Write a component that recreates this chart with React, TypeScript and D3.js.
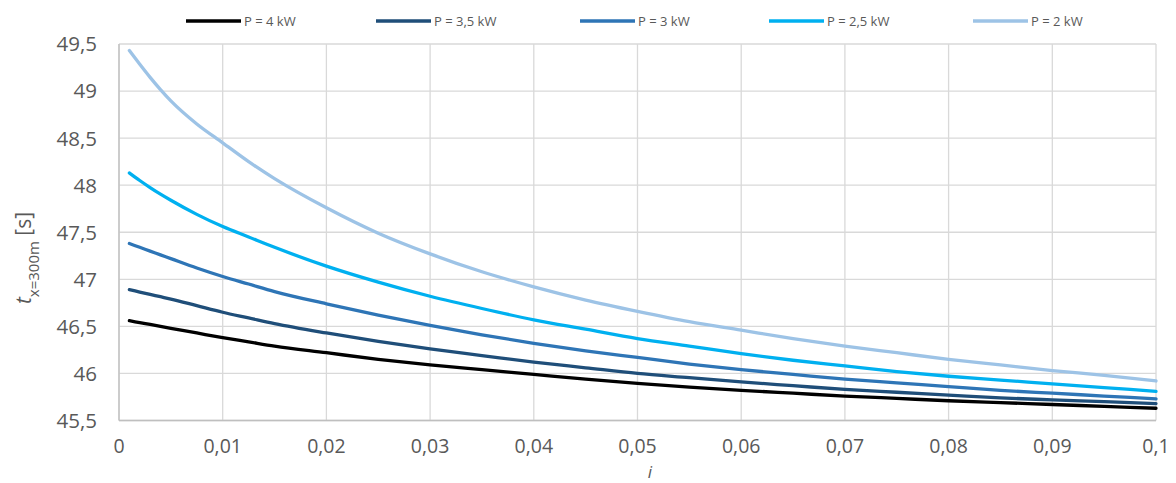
import React from "react";
import * as d3 from "d3";

const xs = [0.001, 0.002, 0.003, 0.004, 0.005, 0.0075, 0.01, 0.0125, 0.015, 0.02, 0.025, 0.03, 0.035, 0.04, 0.045, 0.05, 0.055, 0.06, 0.065, 0.07, 0.075, 0.08, 0.085, 0.09, 0.095, 0.1];
const p4 = [46.56, 46.54, 46.52, 46.5, 46.48, 46.43, 46.38, 46.335, 46.29, 46.22, 46.15, 46.09, 46.04, 45.99, 45.94, 45.895, 45.855, 45.82, 45.79, 45.76, 45.735, 45.71, 45.69, 45.67, 45.65, 45.63];
const p35 = [46.89, 46.865, 46.84, 46.815, 46.79, 46.72, 46.65, 46.59, 46.53, 46.43, 46.34, 46.26, 46.19, 46.12, 46.06, 46.0, 45.955, 45.91, 45.87, 45.83, 45.8, 45.77, 45.74, 45.72, 45.7, 45.68];
const p3 = [47.38, 47.34, 47.3, 47.26, 47.22, 47.12, 47.03, 46.95, 46.87, 46.74, 46.62, 46.51, 46.41, 46.32, 46.24, 46.17, 46.1, 46.04, 45.99, 45.94, 45.9, 45.86, 45.82, 45.79, 45.76, 45.73];
const p25 = [48.13, 48.05, 47.975, 47.905, 47.84, 47.69, 47.56, 47.45, 47.34, 47.14, 46.97, 46.82, 46.69, 46.57, 46.47, 46.37, 46.29, 46.21, 46.14, 46.08, 46.02, 45.97, 45.93, 45.89, 45.85, 45.81];
const p2 = [49.43, 49.285, 49.145, 49.015, 48.895, 48.65, 48.45, 48.25, 48.07, 47.76, 47.49, 47.27, 47.08, 46.92, 46.78, 46.66, 46.55, 46.46, 46.37, 46.29, 46.22, 46.15, 46.09, 46.03, 45.98, 45.92];

const seriesNames = ["P = 4 kW", "P = 3,5 kW", "P = 3 kW", "P = 2,5 kW", "P = 2 kW"];
const seriesValues = [p4, p35, p3, p25, p2];
const colors = ["#000000", "#1F4E79", "#2E75B6", "#00B0F0", "#9DC3E6"];
const xTicks = [0, 0.01, 0.02, 0.03, 0.04, 0.05, 0.06, 0.07, 0.08, 0.09, 0.1];
const yTicks = [45.5, 46, 46.5, 47, 47.5, 48, 48.5, 49, 49.5];

const W = 1176, H = 483;
const m = { left: 119, right: 1156, top: 44, bottom: 420.5 };
const font = "'Open Sans', Lato, sans-serif";
const gray = "#595959";

const fmt = (v: number) => String(v).replace(".", ",");

export default function App() {
  const x = d3.scaleLinear().domain([0, 0.1]).range([m.left, m.right]);
  const y = d3.scaleLinear().domain([45.5, 49.5]).range([m.bottom, m.top]);
  const line = d3.line<[number, number]>().x(d => x(d[0])).y(d => y(d[1])).curve(d3.curveMonotoneX);
  const legendX = [186, 376, 580, 769, 973];
  return (
    <svg width={W} height={H} style={{ position: "absolute", left: 0, top: 0, background: "#fff" }}>
      <rect width={W} height={H} fill="#fff" />
      {yTicks.map(t => (
        <line key={"gy" + t} x1={m.left} x2={m.right} y1={y(t)} y2={y(t)} stroke="#D9D9D9" strokeWidth={1.3} />
      ))}
      {xTicks.map(t => (
        <line key={"gx" + t} x1={x(t)} x2={x(t)} y1={m.top} y2={m.bottom} stroke="#D9D9D9" strokeWidth={1.3} />
      ))}
      <line x1={m.left} x2={m.right} y1={m.bottom} y2={m.bottom} stroke="#BFBFBF" strokeWidth={1.3} />
      <line x1={m.left} x2={m.left} y1={m.top} y2={m.bottom} stroke="#BFBFBF" strokeWidth={1.3} />
      {yTicks.map(t => (
        <text key={"ty" + t} x={97} y={y(t)} dy="0.36em" textAnchor="end" fontFamily={font} fontSize={20.5} fill={gray}>{fmt(t)}</text>
      ))}
      {xTicks.map(t => (
        <text key={"tx" + t} x={x(t)} y={446} dy="0.36em" textAnchor="middle" fontFamily={font} fontSize={19.5} fill={gray}>{fmt(t)}</text>
      ))}
      {seriesValues.map((vals, i) => (
        <path key={"s" + i} d={line(xs.map((xv, j) => [xv, vals[j]] as [number, number])) || ""} fill="none" stroke={colors[i]} strokeWidth={3.3} strokeLinejoin="round" strokeLinecap="round" />
      ))}
      {seriesNames.map((n, i) => (
        <g key={"l" + i}>
          <line x1={legendX[i]} x2={legendX[i] + 55} y1={21} y2={21} stroke={colors[i]} strokeWidth={3.5} />
          <text x={legendX[i] + 58} y={21} dy="0.36em" fontFamily={font} fontSize={13} fill={gray}>{n}</text>
        </g>
      ))}
      <text x={650} y={478} textAnchor="middle" fontFamily={font} fontSize={17} fontStyle="italic" fill={gray}>i</text>
      <text transform="translate(31,258) rotate(-90)" textAnchor="middle" fontFamily={font} fontSize={21} fill={gray}>
        <tspan fontStyle="italic">t</tspan>
        <tspan fontSize={15} dy={8}>x=300m</tspan>
        <tspan dy={-8}> [s]</tspan>
      </text>
    </svg>
  );
}
